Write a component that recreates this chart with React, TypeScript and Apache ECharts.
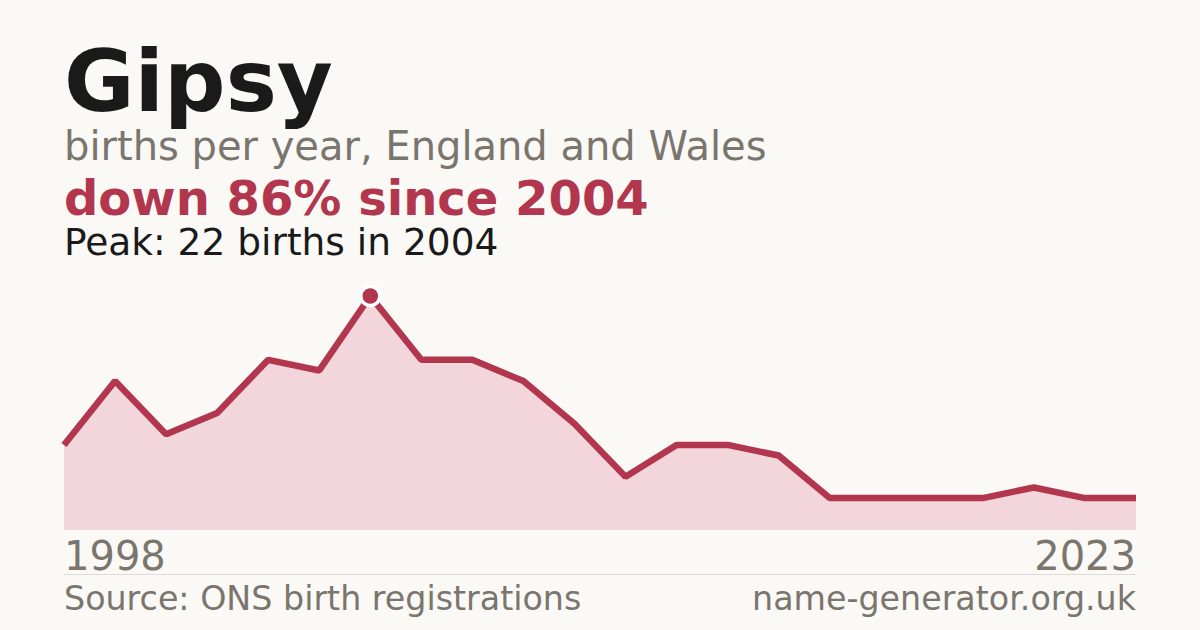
import { useEffect, useRef } from 'react';
import * as echarts from 'echarts';

// years with reported data (suppressed years are left out)
const years = [
  '1998', '1999', '2000', '2001', '2002', '2003', '2004', '2005', '2006', '2007', '2008',
  '2009', '2010', '2011', '2012', '2013', '2014', '2015', '2017', '2019', '2022', '2023',
];
const births = [8, 14, 9, 11, 16, 15, 22, 16, 16, 14, 10, 5, 8, 8, 7, 3, 3, 3, 3, 4, 3, 3];

const peakValue = Math.max(...births);
const peakIndex = births.indexOf(peakValue);

const FONT = "'DejaVu Sans', sans-serif";
const CRIMSON = '#b3364f';
const GREY = '#7a756d';

const App = () => {
  const chartRef = useRef<HTMLDivElement>(null);

  useEffect(() => {
    if (!chartRef.current) return;
    const chart = echarts.init(chartRef.current, null, { renderer: 'svg' });

    const option = {
      animation: false,
      backgroundColor: '#faf9f5',
      textStyle: { fontFamily: FONT },
      grid: { left: 64, right: 64, top: 296, bottom: 100 },
      xAxis: {
        type: 'category',
        data: years,
        boundaryGap: false,
        axisLine: { show: false },
        axisTick: { show: false },
        splitLine: { show: false },
        axisLabel: {
          interval: (i: number) => i === 0 || i === years.length - 1,
          color: GREY,
          fontSize: 40,
          fontFamily: FONT,
          margin: 6,
          alignMinLabel: 'left',
          alignMaxLabel: 'right',
        },
      },
      yAxis: {
        type: 'value',
        min: 0,
        max: peakValue,
        show: false,
      },
      series: [
        {
          type: 'line',
          data: births.map((v, i) =>
            i === peakIndex
              ? {
                  value: v,
                  symbol: 'circle',
                  symbolSize: 19,
                  itemStyle: { color: CRIMSON, borderColor: '#ffffff', borderWidth: 3.5 },
                }
              : v
          ),
          symbol: 'none',
          showSymbol: true,
          lineStyle: { color: CRIMSON, width: 6.5 },
          itemStyle: { color: CRIMSON },
          areaStyle: { color: '#f2d6db', opacity: 1 },
          z: 3,
        },
      ],
      graphic: [
        {
          type: 'text', left: 64, top: 38,
          style: { text: 'Gipsy', fontSize: 86, fontWeight: 'bold', fill: '#1a1a1a', fontFamily: FONT },
        },
        {
          type: 'text', left: 64, top: 126,
          style: { text: 'births per year, England and Wales', fontSize: 40, fill: GREY, fontFamily: FONT },
        },
        {
          type: 'text', left: 64, top: 174,
          style: { text: 'down 86% since 2004', fontSize: 48, fontWeight: 'bold', fill: CRIMSON, fontFamily: FONT },
        },
        {
          type: 'text', left: 64, top: 223,
          style: { text: 'Peak: 22 births in 2004', fontSize: 37.5, lineHeight: 34, fill: '#1a1a1a', fontFamily: FONT },
        },
        {
          type: 'line',
          shape: { x1: 64, y1: 574.5, x2: 1136, y2: 574.5 },
          style: { stroke: '#dedbd4', lineWidth: 1 },
        },
        {
          type: 'text', left: 64, top: 582,
          style: { text: 'Source: ONS birth registrations', fontSize: 33.3, fill: GREY, fontFamily: FONT },
        },
        {
          type: 'text', right: 64, top: 582,
          style: { text: 'name-generator.org.uk', fontSize: 33.3, fill: GREY, fontFamily: FONT },
        },
      ],
    };

    chart.setOption(option);
    return () => chart.dispose();
  }, []);

  return (
    <div
      ref={chartRef}
      style={{ position: 'fixed', left: 0, top: 0, width: 1200, height: 630 }}
    />
  );
};

export default App;
